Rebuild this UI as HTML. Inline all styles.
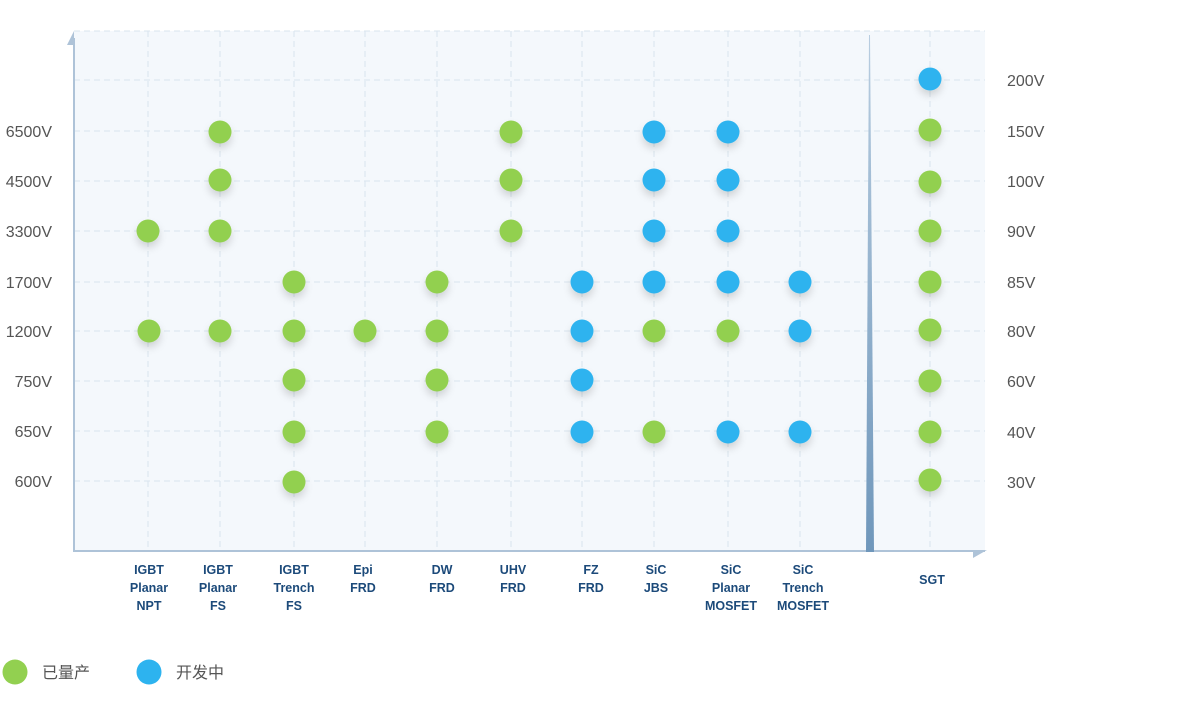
<!DOCTYPE html><html><head><meta charset="utf-8"><style>body{margin:0;background:#fff;width:1202px;height:706px;overflow:hidden}</style></head><body>
<svg width="1202" height="706" xmlns="http://www.w3.org/2000/svg" font-family="'Liberation Sans','Noto Sans CJK SC',sans-serif">
<defs><filter id="sh" x="-100%" y="-100%" width="300%" height="300%"><feDropShadow dx="0" dy="5" stdDeviation="4" flood-color="#000" flood-opacity="0.15"/></filter>
<linearGradient id="dv" x1="0" y1="0" x2="0" y2="1"><stop offset="0" stop-color="#b8cde0"/><stop offset="1" stop-color="#6f97bb"/></linearGradient></defs>
<rect x="74" y="31" width="911" height="520" fill="#f4f8fc"/>
<g stroke="#d9e4ee" stroke-dasharray="6,4" stroke-width="1">
<line x1="74" y1="31" x2="985" y2="31"/>
<line x1="74" y1="80" x2="985" y2="80"/><line x1="74" y1="131" x2="985" y2="131"/><line x1="74" y1="181" x2="985" y2="181"/><line x1="74" y1="231" x2="985" y2="231"/><line x1="74" y1="282" x2="985" y2="282"/><line x1="74" y1="331" x2="985" y2="331"/><line x1="74" y1="381" x2="985" y2="381"/><line x1="74" y1="431" x2="985" y2="431"/><line x1="74" y1="481" x2="985" y2="481"/>
<line x1="148" y1="31" x2="148" y2="551"/><line x1="220" y1="31" x2="220" y2="551"/><line x1="294" y1="31" x2="294" y2="551"/><line x1="365" y1="31" x2="365" y2="551"/><line x1="437" y1="31" x2="437" y2="551"/><line x1="511" y1="31" x2="511" y2="551"/><line x1="582" y1="31" x2="582" y2="551"/><line x1="654" y1="31" x2="654" y2="551"/><line x1="728" y1="31" x2="728" y2="551"/><line x1="800" y1="31" x2="800" y2="551"/><line x1="930" y1="31" x2="930" y2="551"/>
</g>
<line x1="74" y1="38" x2="74" y2="551" stroke="#aec3d8" stroke-width="2"/>
<polygon points="67,45 74,31 74,45" fill="#aec3d8"/>
<line x1="73" y1="551" x2="985" y2="551" stroke="#aec3d8" stroke-width="2"/>
<polygon points="973,551 987,550 973,558" fill="#aec3d8"/>
<polygon points="869,35 870,35 874,552 866,552" fill="url(#dv)"/>
<g font-size="16" fill="#555" text-anchor="end">
<text x="52" y="137">6500V</text><text x="52" y="187">4500V</text><text x="52" y="237">3300V</text><text x="52" y="288">1700V</text><text x="52" y="337">1200V</text><text x="52" y="387">750V</text><text x="52" y="437">650V</text><text x="52" y="487">600V</text>
</g>
<g font-size="16" fill="#555">
<text x="1007" y="86">200V</text><text x="1007" y="137">150V</text><text x="1007" y="187">100V</text><text x="1007" y="237">90V</text><text x="1007" y="288">85V</text><text x="1007" y="337">80V</text><text x="1007" y="387">60V</text><text x="1007" y="438">40V</text><text x="1007" y="488">30V</text>
</g>
<g font-size="12.5" font-weight="bold" fill="#1c4a7a" text-anchor="middle">
<text x="149" y="574">IGBT</text><text x="149" y="592">Planar</text><text x="149" y="610">NPT</text>
<text x="218" y="574">IGBT</text><text x="218" y="592">Planar</text><text x="218" y="610">FS</text>
<text x="294" y="574">IGBT</text><text x="294" y="592">Trench</text><text x="294" y="610">FS</text>
<text x="363" y="574">Epi</text><text x="363" y="592">FRD</text>
<text x="442" y="574">DW</text><text x="442" y="592">FRD</text>
<text x="513" y="574">UHV</text><text x="513" y="592">FRD</text>
<text x="591" y="574">FZ</text><text x="591" y="592">FRD</text>
<text x="656" y="574">SiC</text><text x="656" y="592">JBS</text>
<text x="731" y="574">SiC</text><text x="731" y="592">Planar</text><text x="731" y="610">MOSFET</text>
<text x="803" y="574">SiC</text><text x="803" y="592">Trench</text><text x="803" y="610">MOSFET</text>
<text x="932" y="584">SGT</text>
</g>
<g filter="url(#sh)">
<g fill="#92d050">
<circle cx="148" cy="231" r="11.5"/><circle cx="149" cy="331" r="11.5"/>
<circle cx="220" cy="132" r="11.5"/><circle cx="220" cy="180" r="11.5"/><circle cx="220" cy="231" r="11.5"/><circle cx="220" cy="331" r="11.5"/>
<circle cx="294" cy="282" r="11.5"/><circle cx="294" cy="331" r="11.5"/><circle cx="294" cy="380" r="11.5"/><circle cx="294" cy="432" r="11.5"/><circle cx="294" cy="482" r="11.5"/>
<circle cx="365" cy="331" r="11.5"/>
<circle cx="437" cy="282" r="11.5"/><circle cx="437" cy="331" r="11.5"/><circle cx="437" cy="380" r="11.5"/><circle cx="437" cy="432" r="11.5"/>
<circle cx="511" cy="132" r="11.5"/><circle cx="511" cy="180" r="11.5"/><circle cx="511" cy="231" r="11.5"/>
<circle cx="654" cy="331" r="11.5"/><circle cx="654" cy="432" r="11.5"/><circle cx="728" cy="331" r="11.5"/>
<circle cx="930" cy="130" r="11.5"/><circle cx="930" cy="182" r="11.5"/><circle cx="930" cy="231" r="11.5"/><circle cx="930" cy="282" r="11.5"/><circle cx="930" cy="330" r="11.5"/><circle cx="930" cy="381" r="11.5"/><circle cx="930" cy="432" r="11.5"/><circle cx="930" cy="480" r="11.5"/>
</g>
<g fill="#2db3ef">
<circle cx="582" cy="282" r="11.5"/><circle cx="582" cy="331" r="11.5"/><circle cx="582" cy="380" r="11.5"/><circle cx="582" cy="432" r="11.5"/>
<circle cx="654" cy="132" r="11.5"/><circle cx="654" cy="180" r="11.5"/><circle cx="654" cy="231" r="11.5"/><circle cx="654" cy="282" r="11.5"/>
<circle cx="728" cy="132" r="11.5"/><circle cx="728" cy="180" r="11.5"/><circle cx="728" cy="231" r="11.5"/><circle cx="728" cy="282" r="11.5"/><circle cx="728" cy="432" r="11.5"/>
<circle cx="800" cy="282" r="11.5"/><circle cx="800" cy="331" r="11.5"/><circle cx="800" cy="432" r="11.5"/>
<circle cx="930" cy="79" r="11.5"/>
</g>
</g>
<circle cx="15" cy="672" r="12.5" fill="#92d050"/>
<circle cx="149" cy="672" r="12.5" fill="#2db3ef"/>
<g font-size="16" fill="#555"><text x="42" y="678">已量产</text><text x="176" y="678">开发中</text></g>
</svg>
</body></html>
